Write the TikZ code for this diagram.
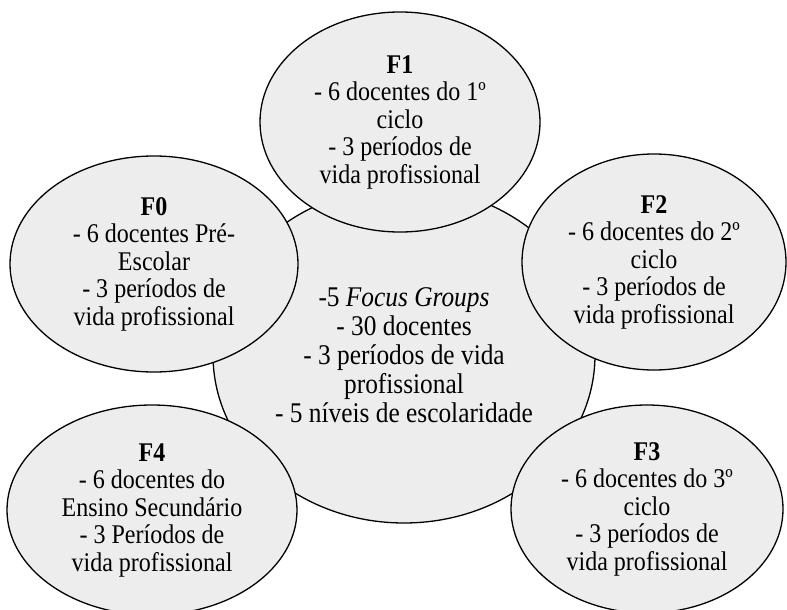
\documentclass[tikz,border=0pt]{standalone}
\usepackage{fontspec}
\setmainfont{Liberation Serif}[FakeStretch=0.89]
\usetikzlibrary{shapes.geometric}

\tikzset{
  grupo/.style={ellipse, draw, line width=1.3pt, fill=black!7, inner sep=0pt,
    align=center, font=\fontsize{27}{27.5}\selectfont},
}

\begin{document}
\begin{tikzpicture}[x=1pt,y=-1pt]
\useasboundingbox (0,0) rectangle (787,610);
% centre
\node[grupo, minimum width=382, minimum height=336, font=\fontsize{28.5}{29}\selectfont] (total) at (404,355)
  {-5 \textit{Focus Groups}\\- 30 docentes\\- 3 períodos de vida\\profissional\\- 5 níveis de escolaridade};
% grupos
\node[grupo, minimum width=280, minimum height=220] (f1) at (400,122)
  {\textbf{F1}\\- 6 docentes do 1º\\ciclo\\- 3 períodos de\\vida profissional};
\node[grupo, minimum width=288, minimum height=216] (f0) at (154,264)
  {\textbf{F0}\\- 6 docentes Pré-\\Escolar\\- 3 períodos de\\vida profissional};
\node[grupo, minimum width=264, minimum height=216] (f2) at (654,262)
  {\textbf{F2}\\- 6 docentes do 2º\\ciclo\\- 3 períodos de\\vida profissional};
\node[grupo, minimum width=272, minimum height=208] (f3) at (647,509)
  {\textbf{F3}\\- 6 docentes do 3º\\ciclo\\- 3 períodos de\\vida profissional};
\node[grupo, minimum width=290, minimum height=210] (f4) at (152,510)
  {\textbf{F4}\\- 6 docentes do\\Ensino Secundário\\- 3 Períodos de\\vida profissional};
\end{tikzpicture}
\end{document}
